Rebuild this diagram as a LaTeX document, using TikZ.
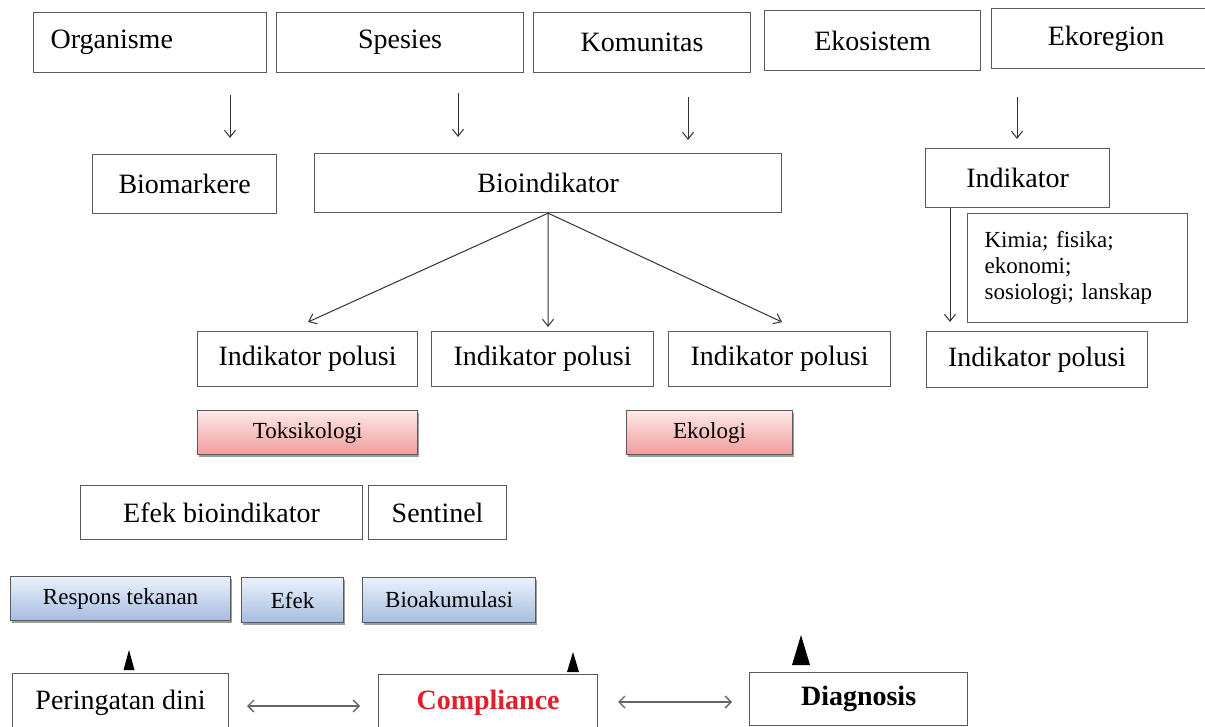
\documentclass[tikz,border=0pt]{standalone}
\usepackage{fontspec}
\setmainfont{Liberation Serif}
\usetikzlibrary{arrows.meta,shadows,calc}
\definecolor{pinkT}{HTML}{FDE8E8}
\definecolor{pinkB}{HTML}{F09C9C}
\definecolor{blueT}{HTML}{EAF1FB}
\definecolor{blueB}{HTML}{A6BCE0}
\definecolor{edgec}{HTML}{5A5A5A}
\definecolor{redtxt}{HTML}{E0202A}
\newcommand\bx[7]{\node[#6, anchor=north west, minimum width={(#4-#2)*1pt}, minimum height={(#5-#3)*1pt}] (#1) at (#2,-#3) {#7};}
\tikzset{
  box/.style={draw=edgec, line width=1.2pt, fill=white, inner sep=0pt, text=black, font=\fontsize{28}{32}\selectfont},
  sbox/.style={box, font=\fontsize{23}{26}\selectfont},
  shadowed/.style={drop shadow={shadow xshift=1.5pt, shadow yshift=-2.5pt, opacity=.55, fill=black!70}},
  pinkbox/.style={sbox, top color=pinkT, bottom color=pinkB, shadowed},
  bluebox/.style={sbox, top color=blueT, bottom color=blueB, shadowed},
  arr/.style={-{Straight Barb[length=7pt,width=11pt]}, line width=1pt, draw=black!80},
  dbl/.style={{Straight Barb[length=6pt,width=12pt]}-{Straight Barb[length=6pt,width=12pt]}, line width=1.4pt, draw=black!60},
  tri/.style={fill=black}
}
\begin{document}
\begin{tikzpicture}[x=1pt,y=1pt]
\useasboundingbox (0,0) rectangle (1205,-727);
\clip (0,0) rectangle (1205,-727);
% top row
\bx{org}{33}{12}{266}{72}{box, text width=199pt, inner xsep=17pt, align=left}{Organisme}
\bx{spe}{276}{12}{523}{72}{box}{Spesies}
\bx{kom}{533}{12}{750}{72}{box}{Komunitas}
\bx{eks}{764}{10}{980}{70}{box}{Ekosistem}
\bx{ekr}{991}{8}{1220}{68}{box}{Ekoregion}
% second row
\bx{bmk}{92}{154}{276}{213}{box}{Biomarkere}
\bx{bio}{314}{153}{781}{212}{box}{Bioindikator}
\bx{ind}{925}{148}{1109}{207}{box}{Indikator}
\bx{kim}{967}{213}{1187}{322}{sbox, text width=186pt, inner xsep=17pt, align=left}{Kimia; fisika;\\ekonomi;\\sosiologi; lanskap}
% indikator polusi
\bx{ip1}{197}{331}{417}{386}{box}{Indikator polusi}
\bx{ip2}{431}{331}{653}{386}{box}{Indikator polusi}
\bx{ip3}{668}{331}{890}{386}{box}{Indikator polusi}
\bx{ip4}{926}{331}{1147}{387}{box}{Indikator polusi}
% pink
\bx{tok}{197}{410}{417}{454}{pinkbox}{Toksikologi}
\bx{eko}{626}{410}{792}{454}{pinkbox}{Ekologi}
% effects
\bx{efb}{80}{485}{362}{539}{box}{Efek bioindikator}
\bx{sen}{368}{485}{506}{539}{box}{Sentinel}
% blue
\bx{res}{10}{576}{230}{620}{bluebox}{Respons tekanan}
\bx{efk}{241}{577}{343}{622}{bluebox}{Efek}
\bx{bak}{362}{577}{535}{622}{bluebox}{Bioakumulasi}
% bottom
\bx{per}{12}{673}{228}{731}{box}{Peringatan dini}
\bx{com}{378}{674}{597}{731}{box, text=redtxt, font=\fontsize{28}{32}\selectfont\bfseries}{Compliance}
\bx{dia}{749}{672}{967}{725}{box, font=\fontsize{28}{32}\selectfont\bfseries}{Diagnosis}
% top arrows
\coordinate (a1s) at (230,-95);  \coordinate (a1e) at (230,-138);
\coordinate (a2s) at (458,-93);  \coordinate (a2e) at (458,-137);
\coordinate (a3s) at (688,-97);  \coordinate (a3e) at (688,-140);
\coordinate (a4s) at (1017,-97); \coordinate (a4e) at (1017,-139);
\foreach \i in {1,2,3,4} \draw[arr] (a\i s) -- (a\i e);
% bioindikator branches
\coordinate (b1) at (308,-322);
\coordinate (b2) at (548,-327);
\coordinate (b3) at (782,-322);
\foreach \i in {1,2,3} \draw[arr] (bio.south) -- (b\i);
% indikator to indikator polusi
\coordinate (i1) at ($(ind.south west)+(25,0)$);
\coordinate (i2) at (950,-322);
\draw[arr] (i1) -- (i2);
% bottom double arrows
\coordinate (d1) at (247,-706); \coordinate (d2) at (360,-706);
\coordinate (d3) at (618,-702); \coordinate (d4) at (732,-702);
\draw[dbl] (d1) -- (d2);
\draw[dbl] (d3) -- (d4);
% triangles
\fill[tri] ($(per.north west)+(111.5,3)$) -- ($(per.north west)+(117,23)$) -- ($(per.north west)+(122.5,3)$) -- cycle;
\fill[tri] ($(com.north west)+(189,2)$) -- ($(com.north west)+(195,22)$) -- ($(com.north west)+(201,2)$) -- cycle;
\fill[tri] ($(dia.north west)+(43,7)$) -- ($(dia.north west)+(52,37)$) -- ($(dia.north west)+(61,7)$) -- cycle;
\end{tikzpicture}
\end{document}
